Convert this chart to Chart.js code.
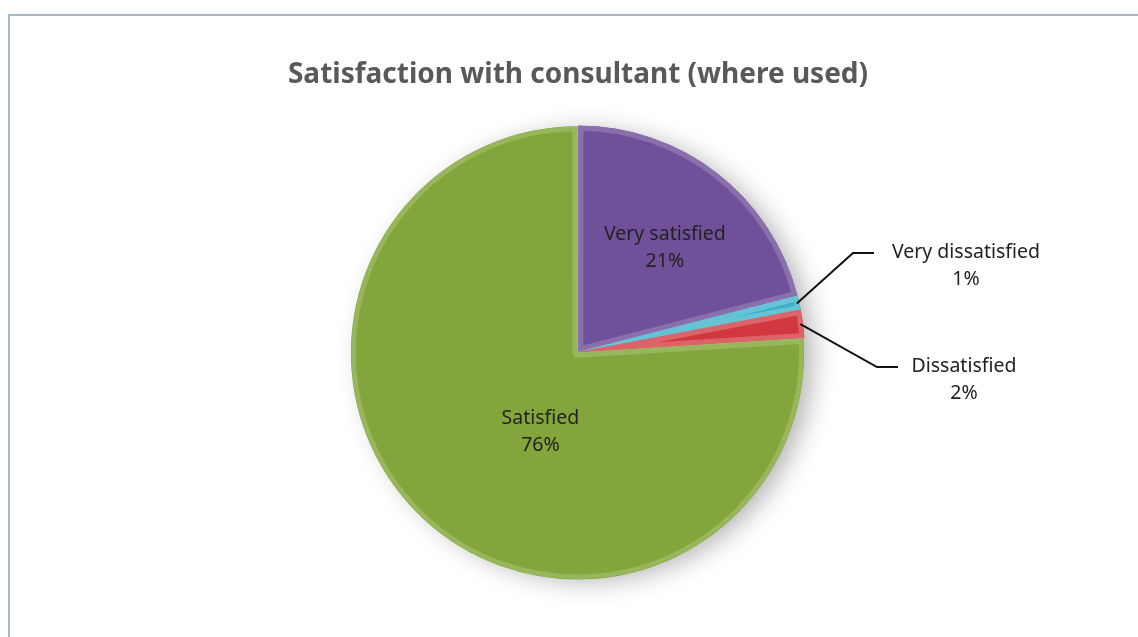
<!DOCTYPE html>
<html>
<head>
<meta charset="utf-8">
<script src="https://cdn.jsdelivr.net/npm/chart.js@4.4.1/dist/chart.umd.min.js"></script>
<style>
  html, body { margin: 0; padding: 0; background: #fff; overflow: hidden; }
  .frame {
    position: absolute; left: 8px; top: 14px; width: 1200px; height: 700px;
    border: 2px solid #a5b8c5; box-sizing: border-box;
  }
  .chart-container { position: absolute; left: 0; top: 0; width: 1138px; height: 637px; }
</style>
</head>
<body>
<div class="frame"></div>
<div class="chart-container">
  <canvas id="pie" width="1138" height="637"></canvas>
</div>
<script>
const categories = ['Very satisfied', 'Very dissatisfied', 'Dissatisfied', 'Satisfied'];
const shares = [21, 1, 2, 76];
const sliceColors = ['#71509a', '#3bb0c9', '#d0373e', '#84a53b'];
const edgeColors = ['#8a6fad', '#66c3d6', '#dc6469', '#98b65c'];

// label placement: inside slices for the big ones, leader lines for the small ones
const labelPlacement = [
  { inside: true, r: 0.6, shift: 2 },
  { inside: false, elbow: [853, 253], textX: 966 },
  { inside: false, elbow: [877, 367], textX: 964 },
  { inside: true, r: 0.39, shift: -18 }
];

const FONT = '"Noto Sans", "DejaVu Sans", sans-serif';

const shadowPlugin = {
  id: 'pieShadow',
  beforeDatasetsDraw(chart) {
    const arc = chart.getDatasetMeta(0).data[0];
    if (!arc) return;
    const ctx = chart.ctx;
    ctx.save();
    ctx.shadowColor = 'rgba(0,0,0,0.3)';
    ctx.shadowBlur = 26;
    ctx.shadowOffsetX = 10;
    ctx.shadowOffsetY = 4;
    ctx.fillStyle = '#fff';
    ctx.beginPath();
    ctx.arc(arc.x, arc.y, arc.outerRadius - 2, 0, Math.PI * 2);
    ctx.fill();
    ctx.restore();
  }
};

const labelPlugin = {
  id: 'sliceLabels',
  afterDatasetsDraw(chart) {
    const ctx = chart.ctx;
    const arcs = chart.getDatasetMeta(0).data;
    ctx.save();
    ctx.font = '19.5px ' + FONT;
    ctx.fillStyle = '#222';
    ctx.textAlign = 'center';
    ctx.textBaseline = 'middle';
    arcs.forEach((arc, i) => {
      const p = labelPlacement[i];
      const mid = (arc.startAngle + arc.endAngle) / 2;
      const lines = [categories[i], shares[i] + '%'];
      if (p.inside) {
        const a = mid + p.shift * Math.PI / 180;
        const x = arc.x + Math.cos(a) * arc.outerRadius * p.r;
        const y = arc.y + Math.sin(a) * arc.outerRadius * p.r;
        ctx.fillText(lines[0], x, y - 13.5);
        ctx.fillText(lines[1], x, y + 13.5);
      } else {
        const ex = arc.x + Math.cos(mid) * (arc.outerRadius - 2);
        const ey = arc.y + Math.sin(mid) * (arc.outerRadius - 2);
        const [bx, by] = p.elbow;
        ctx.strokeStyle = '#111';
        ctx.lineWidth = 2;
        ctx.beginPath();
        ctx.moveTo(ex, ey);
        ctx.lineTo(bx, by);
        ctx.lineTo(bx + 21, by);
        ctx.stroke();
        ctx.fillText(lines[0], p.textX, by - 1);
        ctx.fillText(lines[1], p.textX, by + 26);
      }
    });
    ctx.restore();
  }
};

new Chart(document.getElementById('pie'), {
  type: 'pie',
  data: {
    labels: categories,
    datasets: [{
      data: shares,
      backgroundColor: sliceColors,
      borderColor: edgeColors,
      borderWidth: 5,
      borderAlign: 'inner',
      offset: [3, 2, 2, 3]
    }]
  },
  options: {
    responsive: false,
    animation: false,
    layout: { padding: { top: 56, bottom: 57, left: 18, right: 0 } },
    plugins: {
      legend: { display: false },
      tooltip: { enabled: false },
      title: {
        display: true,
        text: 'Satisfaction with consultant (where used)',
        color: '#595959',
        font: { family: FONT, size: 28, weight: 'bold' },
        padding: { top: 2, bottom: 33 }
      }
    }
  },
  plugins: [shadowPlugin, labelPlugin]
});
</script>
</body>
</html>
